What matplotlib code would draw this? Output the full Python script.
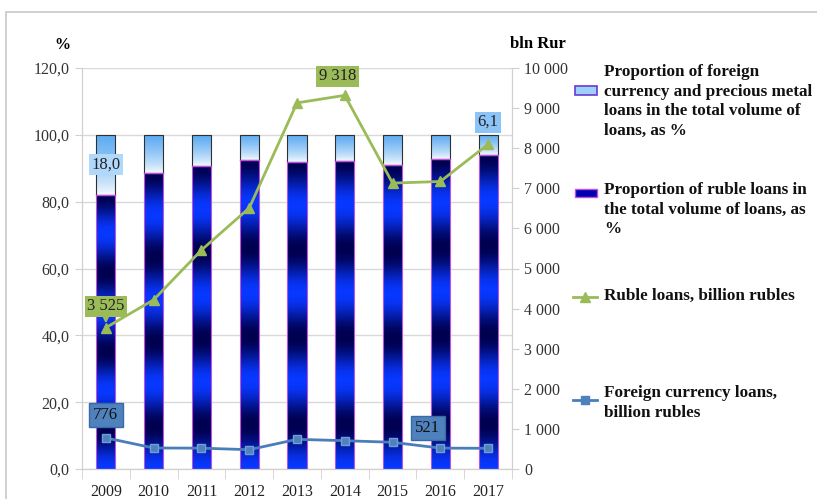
import numpy as np
import matplotlib
matplotlib.use('Agg')
import matplotlib.pyplot as plt
from matplotlib.colors import LinearSegmentedColormap
from matplotlib.patches import Rectangle
from matplotlib.lines import Line2D

plt.rcParams['font.family'] = ['Liberation Serif', 'DejaVu Serif']

years = ['2009', '2010', '2011', '2012', '2013', '2014', '2015', '2016', '2017']
ruble_share = [82.0, 88.7, 90.8, 92.5, 91.9, 92.3, 91.0, 92.8, 93.9]
foreign_share = [100 - v for v in ruble_share]
ruble_loans = [3525, 4220, 5460, 6510, 9130, 9318, 7130, 7170, 8100]
foreign_loans = [776, 524, 520, 481, 740, 706, 666, 521, 516]

W, H = 817, 499
fig = plt.figure(figsize=(W / 100, H / 100), dpi=100)

# page frame
fig.patches.append(Rectangle((6 / W, -0.1), 1.2, 1 - 12 / H + 0.1, transform=fig.transFigure,
                             fill=False, edgecolor='#c8c8c8', lw=1.2))

ax = fig.add_axes([82 / W, 1 - 469 / H, 430 / W, 401 / H])
ax2 = ax.twinx()

x = np.arange(len(years))
bw = 0.4

dark_cmap = LinearSegmentedColormap.from_list('rub', ['#0838ff', '#000050'])
light_cmap = LinearSegmentedColormap.from_list('frn', ['#ffffff', '#5aaaf2'])

rub_bars = ax.bar(x, ruble_share, bw, facecolor='none', edgecolor='#c050e0', lw=0.8, zorder=3)
frn_bars = ax.bar(x, foreign_share, bw, bottom=ruble_share, facecolor='none',
                  edgecolor='#303030', lw=0.8, zorder=3)

t = np.linspace(0, 1, 300).reshape(-1, 1)
rub_img = 0.5 + 0.5 * np.cos(2 * np.pi * 3.5 * (1 - t))
frn_img = t ** 0.7

for bars, img, cmap in [(rub_bars, rub_img, dark_cmap), (frn_bars, frn_img, light_cmap)]:
    for b in bars:
        bx, by = b.get_xy()
        im = ax.imshow(img, extent=[bx, bx + b.get_width(), by, by + b.get_height()],
                       aspect='auto', cmap=cmap, vmin=0, vmax=1, origin='lower', zorder=2.5)
        im.set_clip_path(b)
# purple separator
for b in frn_bars:
    bx, by = b.get_xy()
    ax.plot([bx, bx + b.get_width()], [by, by], color='#c050e0', lw=1.0, zorder=3.2)

ax.set_xlim(-0.5, len(years) - 0.5)
ax.set_ylim(0, 120)
ax.set_yticks(np.arange(0, 121, 20))
ax.set_yticklabels([('%.1f' % v).replace('.', ',') for v in range(0, 121, 20)])
ax.yaxis.grid(True, color='#d9d9d9', lw=1.0)
ax.set_axisbelow(True)
ax.set_xticks(x)
ax.set_xticklabels(years)
ax.set_xticks(np.arange(-0.5, len(years), 1), minor=True)
ax.tick_params(axis='x', which='major', length=0, pad=11, labelsize=11.5, labelcolor='#222222')
ax.tick_params(axis='x', which='minor', length=7, color='#d0d0d0')
ax.tick_params(axis='y', length=5, color='#d0d0d0', pad=4, labelsize=11.5, labelcolor='#333333')

ax2.plot(x, ruble_loans, color='#9bbb59', lw=2, marker='^', ms=7, zorder=4)
ax2.plot(x, foreign_loans, color='#4a7ebb', lw=2, marker='s', ms=6, mfc='#4f81bd',
         mec='#6f9fd8', zorder=4)
ax2.set_ylim(0, 10000)
ax2.set_yticks(np.arange(0, 10001, 1000))
ax2.set_yticklabels([('{:,}'.format(v)).replace(',', ' ') for v in range(0, 10001, 1000)])
ax2.tick_params(axis='y', length=5, color='#d0d0d0', pad=4, labelsize=11.5, labelcolor='#333333')

for a in (ax, ax2):
    a.spines['top'].set_visible(False)
    for s in ('left', 'right', 'bottom'):
        a.spines[s].set_color('#d0d0d0')

# data labels
ax.text(0, 91, '18,0', ha='center', va='center', fontsize=12, color='#222222', zorder=6,
        bbox=dict(boxstyle='square,pad=0.15', facecolor='#b0d8fb', edgecolor='none'))
ax.text(8, 103.8, '6,1', ha='center', va='center', fontsize=12, color='#222222', zorder=6,
        bbox=dict(boxstyle='square,pad=0.15', facecolor='#8cc4f8', edgecolor='none'))
ax2.annotate('3 525', xy=(0, 3525), xytext=(0, 4060), ha='center', va='center', fontsize=12,
             color='#222222', zorder=6,
             bbox=dict(boxstyle='square,pad=0.15', facecolor='#9bbb59', edgecolor='none'),
             arrowprops=dict(arrowstyle='-|>', color='#9bbb59', lw=1.5, shrinkA=0, shrinkB=3))
ax2.text(4.85, 9800, '9 318', ha='center', va='center', fontsize=12, color='#222222', zorder=6,
         bbox=dict(boxstyle='square,pad=0.15', facecolor='#9bbb59', edgecolor='none'))
ax2.text(0, 1350, '776', ha='center', va='center', fontsize=12, color='#111111', zorder=6,
         bbox=dict(boxstyle='square,pad=0.25', facecolor='#4f81bd', edgecolor='#3a6aa5'))
ax2.text(6.74, 1020, '521', ha='center', va='center', fontsize=12, color='#111111', zorder=6,
         bbox=dict(boxstyle='square,pad=0.25', facecolor='#4f81bd', edgecolor='#3a6aa5'))

# axis titles
fig.text(62 / W, 1 - 45 / H, '%', ha='center', va='center', fontsize=11.5, fontweight='bold')
fig.text(538 / W, 1 - 44 / H, 'bln Rur', ha='center', va='center', fontsize=12, fontweight='bold')

# legend
def fx(px):
    return px / W

def fy(py):
    return 1 - py / H

leg1 = Rectangle((fx(575), fy(95)), 22 / W, 9 / H, transform=fig.transFigure,
                 facecolor='#9fd0fa', edgecolor='#6a3ad0', lw=1.2)
leg2 = Rectangle((fx(575), fy(197)), 22 / W, 8 / H, transform=fig.transFigure,
                 facecolor='#0000b0', edgecolor='#c050e0', lw=1.0)
fig.patches.extend([leg1, leg2])
fig.lines.append(Line2D([fx(573), fx(597)], [fy(297), fy(297)], transform=fig.transFigure,
                        color='#9bbb59', lw=2))
fig.lines.append(Line2D([fx(585)], [fy(297)], transform=fig.transFigure, color='#9bbb59',
                        marker='^', ms=7, ls='none'))
fig.lines.append(Line2D([fx(573), fx(597)], [fy(400), fy(400)], transform=fig.transFigure,
                        color='#4a7ebb', lw=2))
fig.lines.append(Line2D([fx(585)], [fy(400)], transform=fig.transFigure, color='#4f81bd',
                        marker='s', ms=6, ls='none'))

leg_kw = dict(ha='left', va='top', fontsize=12.3, fontweight='bold', linespacing=1.3,
              color='#111111')
fig.text(fx(604), fy(64), 'Proportion of foreign\ncurrency and precious metal\n'
         'loans in the total volume of\nloans, as %', **leg_kw)
fig.text(fx(604), fy(182), 'Proportion of ruble loans in\nthe total volume of loans, as\n%',
         **leg_kw)
fig.text(fx(604), fy(288), 'Ruble loans, billion rubles', **leg_kw)
fig.text(fx(604), fy(385), 'Foreign currency loans,\nbillion rubles', **leg_kw)

fig.savefig('out.png', dpi=100)
